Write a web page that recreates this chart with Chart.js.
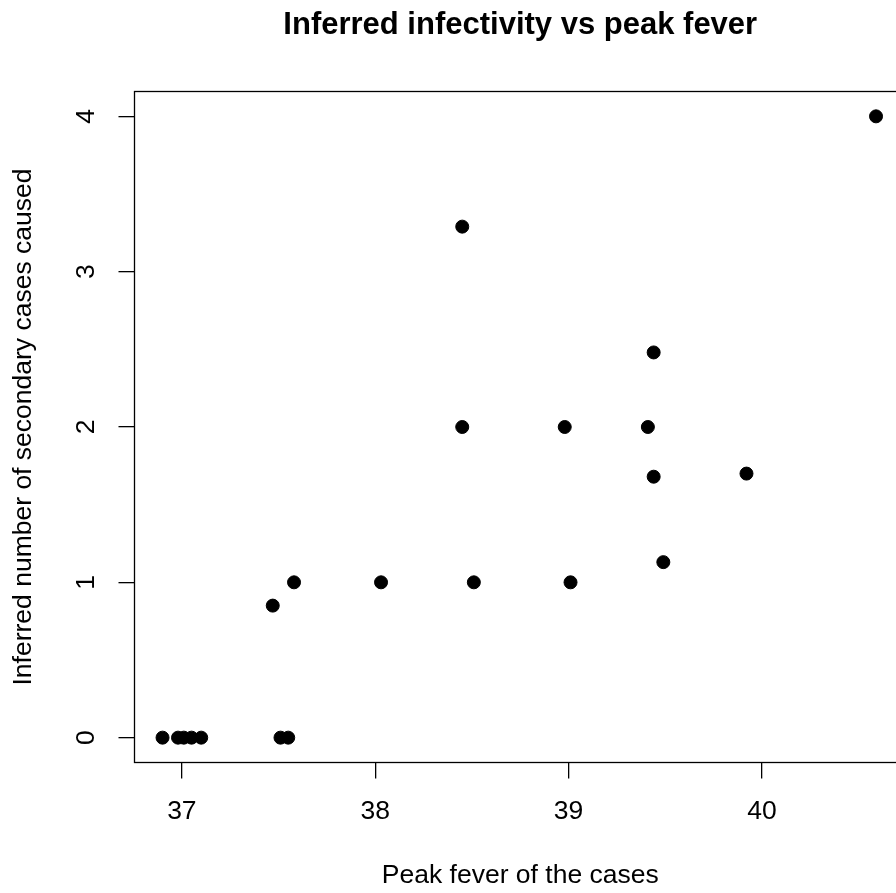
<!DOCTYPE html>
<html>
<head>
<meta charset="utf-8">
<script src="https://cdn.jsdelivr.net/npm/chart.js@4.4.1/dist/chart.umd.min.js"></script>
<style>
  html, body { margin: 0; padding: 0; background: #fff; overflow: hidden; }
  #wrap { position: absolute; left: 0; top: 0; width: 960px; height: 893px; }
</style>
</head>
<body>
<div id="wrap"><canvas id="myChartFever" width="960" height="893"></canvas></div>
<script>
// one entry per case: peak fever and inferred secondary cases
const peakFever = [36.90, 36.98, 37.01, 37.05, 37.10, 37.51, 37.55, 37.47, 37.58, 38.03, 38.45, 38.45, 38.51, 38.98, 39.01, 39.41, 39.44, 39.44, 39.49, 39.92, 40.59];
const secondaryCases = [0, 0, 0, 0, 0, 0, 0, 0.85, 1, 1, 3.29, 2, 1, 2, 1, 2, 2.48, 1.68, 1.13, 1.70, 4];
const xTicks = [37, 38, 39, 40];
const yTicks = [0, 1, 2, 3, 4];
const xRange = [36.755, 40.745];
const yRange = [-0.16, 4.16];

Chart.defaults.font.family = "'Liberation Sans', Arial, Helvetica, sans-serif";
Chart.defaults.font.size = 26.5;
Chart.defaults.color = '#000';

// R style box around the plot region
const plotBox = {
  id: 'plotBox',
  afterDraw(chart) {
    const { ctx, chartArea: a } = chart;
    ctx.save();
    ctx.strokeStyle = '#000';
    ctx.lineWidth = 1.3;
    ctx.strokeRect(a.left, a.top, a.right - a.left, a.bottom - a.top);
    ctx.restore();
  }
};

const chartFever = document.getElementById('myChartFever');

new Chart(chartFever, {
  type: 'scatter',
  data: {
    datasets: [{
      label: 'Casos',
      data: peakFever.map((x, i) => ({ x: x, y: secondaryCases[i] })),
      backgroundColor: '#000',
      borderColor: '#000',
      borderWidth: 1,
      pointRadius: 6.5,
      pointHoverRadius: 6.5
    }]
  },
  options: {
    responsive: false,
    animation: false,
    devicePixelRatio: 1,
    layout: { padding: { left: 0, right: 54, top: 0, bottom: 0 } },
    plugins: {
      legend: { display: false },
      tooltip: { enabled: false },
      title: {
        display: true,
        fullSize: false,
        text: 'Inferred infectivity vs peak fever',
        color: '#000',
        font: { size: 31, weight: 'bold' },
        padding: { top: 7, bottom: 47.3 }
      }
    },
    scales: {
      x: {
        type: 'linear',
        min: xRange[0],
        max: xRange[1],
        afterBuildTicks: s => { s.ticks = xTicks.map(v => ({ value: v })); },
        afterFit: s => { s.height = 130.5; },
        border: { display: false },
        grid: { drawOnChartArea: false, color: '#000', lineWidth: 1.3, tickLength: 16 },
        ticks: { color: '#000', padding: 17.4, maxRotation: 0 },
        title: { display: true, text: 'Peak fever of the cases', color: '#000', padding: { top: 1, bottom: 1 } }
      },
      y: {
        type: 'linear',
        min: yRange[0],
        max: yRange[1],
        afterBuildTicks: s => { s.ticks = yTicks.map(v => ({ value: v })); },
        afterFit: s => { s.width = 134.5; },
        border: { display: false },
        grid: { drawOnChartArea: false, color: '#000', lineWidth: 1.3, tickLength: 16 },
        ticks: { color: '#000', padding: 24, minRotation: 90, maxRotation: 90, crossAlign: 'center' },
        title: { display: true, text: 'Inferred number of secondary cases caused', color: '#000', padding: { top: 7.4, bottom: 7.4 } }
      }
    }
  },
  plugins: [plotBox]
});
</script>
</body>
</html>
